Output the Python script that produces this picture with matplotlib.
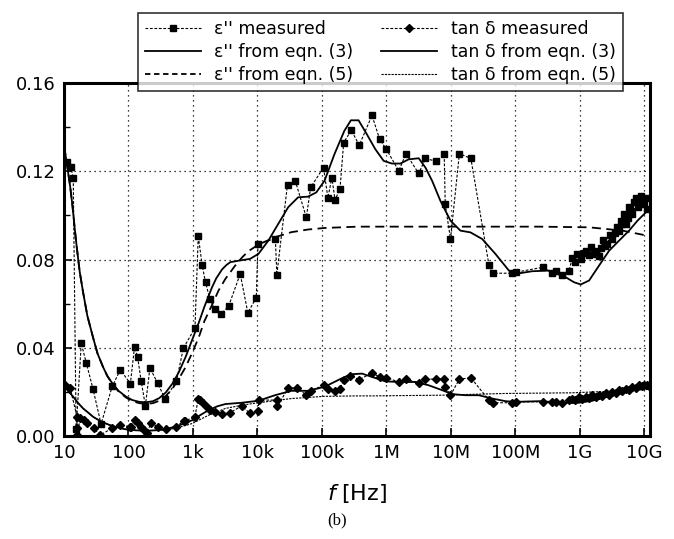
import numpy as np
import matplotlib
matplotlib.use('Agg')
import matplotlib.pyplot as plt
from matplotlib.ticker import FixedLocator, LogLocator, NullFormatter, MultipleLocator
from matplotlib.lines import Line2D

# --- data (frequency in Hz) ---
eps_meas_f = [11.3, 12.7, 13.9, 15.4, 18.5, 22.2, 28.2, 37.5, 56, 74.7, 107, 124, 139, 157, 183, 215,
              282, 371, 554, 710, 1075, 1208, 1392, 1568, 1828, 2180, 2760, 3580, 5410, 7100, 9600,
              10200, 19000, 20000, 29300, 38900, 57400, 67000, 106e3, 124e3, 143e3, 160e3, 191e3,
              218e3, 286e3, 380e3, 599e3, 788e3, 1.0e6, 1.56e6, 2.02e6, 3.18e6, 4.04e6, 5.98e6,
              7.9e6, 8.2e6, 9.89e6, 13.6e6, 20.5e6, 39e6, 45e6, 87.7e6, 101e6, 269e6, 367e6, 424e6,
              538e6, 682e6, 769e6, 850e6, 920e6, 1.04e9, 1.15e9, 1.24e9, 1.38e9, 1.52e9, 1.65e9,
              1.77e9, 2.0e9, 2.15e9, 2.3e9, 2.5e9, 2.69e9, 2.95e9, 3.22e9, 3.5e9, 3.85e9, 4.1e9,
              4.33e9, 4.6e9, 4.88e9, 5.3e9, 5.6e9, 5.84e9, 6.2e9, 6.59e9, 7.0e9, 7.42e9, 7.9e9,
              8.36e9, 8.87e9, 9.4e9, 10e9, 10.6e9, 11.2e9]
eps_meas_v = [0.124, 0.122, 0.117, 0.003, 0.042, 0.033, 0.0213, 0.0054, 0.0226, 0.030, 0.0238, 0.0404,
              0.0356, 0.025, 0.0137, 0.0309, 0.0241, 0.0167, 0.0249, 0.0398, 0.049, 0.0907, 0.0773,
              0.0696, 0.0622, 0.0576, 0.0554, 0.0589, 0.0735, 0.0559, 0.0627, 0.0871, 0.0895, 0.0731,
              0.114, 0.1154, 0.0991, 0.1127, 0.1217, 0.108, 0.117, 0.107, 0.112, 0.133, 0.1386,
              0.1318, 0.1453, 0.1345, 0.130, 0.1202, 0.128, 0.119, 0.1258, 0.1245, 0.1277, 0.1051,
              0.0893, 0.128, 0.1258, 0.0777, 0.0738, 0.0738, 0.0742, 0.0765, 0.0739, 0.075, 0.0732,
              0.075, 0.0807, 0.079, 0.0825, 0.0803, 0.083, 0.084, 0.082, 0.0855, 0.084, 0.0825,
              0.0818, 0.085, 0.0889, 0.086, 0.087, 0.091, 0.0893, 0.092, 0.0946, 0.093, 0.0976,
              0.096, 0.1006, 0.0961, 0.099, 0.1036, 0.102, 0.1006, 0.106, 0.1081, 0.104, 0.1051,
              0.1089, 0.107, 0.1051, 0.108, 0.1029]

eps3_f = [10, 10.6, 11.3, 12.4, 13.5, 14.6, 15.7, 17.5, 19.8, 23, 28.3, 33, 40.3, 47, 57.4, 70, 92,
          115, 147, 187, 240, 300, 380, 481, 600, 771, 1000, 1236, 1500, 1982, 2300, 2825, 3300,
          3795, 5410, 7700, 10.4e3, 14.8e3, 21e3, 30e3, 42.8e3, 61e3, 81.8e3, 110e3, 157e3, 223e3,
          282e3, 371e3, 500e3, 675e3, 910e3, 1.22e6, 1.65e6, 2.22e6, 3.18e6, 4.04e6, 5.13e6, 6.9e6,
          9.9e6, 14.1e6, 20.2e6, 30.7e6, 49.4e6, 79.7e6, 101e6, 184e6, 333e6, 605e6, 816e6, 1.04e9,
          1.4e9, 2.0e9, 2.86e9, 4.09e9, 5.84e9, 7.87e9, 10e9, 12e9]
eps3_v = [0.1315, 0.127, 0.1215, 0.1135, 0.1045, 0.0945, 0.086, 0.0745, 0.065, 0.0545, 0.0445,
          0.0375, 0.0313, 0.0272, 0.0235, 0.0205, 0.0178, 0.0163, 0.0155, 0.0153, 0.0158, 0.0172,
          0.0198, 0.0238, 0.0288, 0.0359, 0.0445, 0.0515, 0.0585, 0.0675, 0.0715, 0.0755, 0.0775,
          0.0788, 0.0796, 0.0803, 0.0826, 0.0886, 0.0961, 0.1037, 0.1082, 0.1085, 0.1104, 0.1157,
          0.1278, 0.1383, 0.1431, 0.1431, 0.1367, 0.130, 0.1247, 0.1235, 0.1235, 0.1254, 0.1259,
          0.1217, 0.1157, 0.1066, 0.0976, 0.0931, 0.0923, 0.0893, 0.0825, 0.075, 0.0735, 0.0747,
          0.075, 0.072, 0.0697, 0.0687, 0.0705, 0.0773, 0.084, 0.0886, 0.0931, 0.0976, 0.1006, 0.1029]

eps5_f = [10, 10.6, 11.3, 12.4, 13.5, 14.6, 15.7, 17.5, 19.8, 23, 28.3, 33, 40.3, 47, 57.4, 70, 92,
          115, 147, 187, 240, 300, 380, 481, 600, 771, 1000, 1236, 1500, 1982, 2500, 3180, 4530,
          5800, 7280, 10.4e3, 18.7e3, 33.7e3, 61e3, 110e3, 358e3, 1.97e6, 21e6, 233e6, 1.4e9,
          4.6e9, 11.2e9]
eps5_v = [0.1315, 0.127, 0.1215, 0.1135, 0.1045, 0.0945, 0.086, 0.0745, 0.065, 0.0545, 0.0445,
          0.0375, 0.0313, 0.0272, 0.0233, 0.0202, 0.0174, 0.0158, 0.0149, 0.0146, 0.0149, 0.016,
          0.0182, 0.0215, 0.0258, 0.0313, 0.0385, 0.0449, 0.052, 0.0595, 0.066, 0.0712, 0.0773,
          0.081, 0.0838, 0.0868, 0.0901, 0.0924, 0.0936, 0.0943, 0.0949, 0.0949, 0.0949, 0.0949,
          0.0946, 0.0931, 0.0908]

tan_meas_f = [10.5, 12.5, 15.9, 15.9, 15.9, 17.9, 20.2, 22.8, 28.9, 36.6, 55.5, 74.7, 107, 110, 124,
              139, 157, 176, 191, 223, 282, 379, 541, 728, 752, 1075, 1208, 1285, 1445, 1629, 1836,
              2195, 2784, 3750, 5690, 7660, 10.3e3, 10.5e3, 19.9e3, 20.3e3, 30e3, 40.5e3, 57.4e3,
              67e3, 106e3, 124e3, 160e3, 191e3, 218e3, 276e3, 380e3, 599e3, 788e3, 1.0e6, 1.56e6,
              2.02e6, 3.18e6, 4.04e6, 5.98e6, 7.9e6, 8.2e6, 9.89e6, 13.6e6, 20.5e6, 39e6, 45e6,
              87.7e6, 101e6, 269e6, 367e6, 424e6, 538e6, 682e6, 769e6, 850e6, 978e6, 1.1e9, 1.24e9,
              1.4e9, 1.57e9, 1.8e9, 2.0e9, 2.25e9, 2.54e9, 2.85e9, 3.22e9, 3.6e9, 4.09e9, 4.6e9,
              5.19e9, 5.8e9, 6.59e9, 7.4e9, 8.36e9, 9.2e9, 10e9, 11e9, 12e9]
tan_meas_v = [0.0231, 0.0216, 0.0087, 0.0035, 0.0005, 0.008, 0.0072, 0.0057, 0.0035, 0.0005, 0.0035,
              0.005, 0.0042, 0.0042, 0.0072, 0.0057, 0.0042, 0.0027, 0.0015, 0.0057, 0.0042, 0.003,
              0.0042, 0.0069, 0.0069, 0.0087, 0.017, 0.0163, 0.0148, 0.0133, 0.0118, 0.011, 0.010,
              0.0106, 0.0136, 0.0103, 0.0115, 0.0163, 0.0163, 0.0136, 0.0216, 0.022, 0.0185, 0.0205,
              0.023, 0.0215, 0.0205, 0.0215, 0.0253, 0.0273, 0.0256, 0.0286, 0.0268, 0.0265, 0.0245,
              0.0258, 0.0241, 0.0258, 0.0258, 0.0258, 0.0223, 0.0185, 0.0258, 0.0264, 0.0163, 0.0151,
              0.0151, 0.0155, 0.0155, 0.0155, 0.0155, 0.0151, 0.0163, 0.017, 0.0162, 0.0175, 0.0168,
              0.0178, 0.0172, 0.0185, 0.0178, 0.0185, 0.018, 0.0193, 0.0188, 0.020, 0.0195, 0.0208,
              0.0203, 0.0215, 0.021, 0.0223, 0.0218, 0.023, 0.0226, 0.023, 0.0232, 0.0226]

tan3_f = [10, 11.5, 13.9, 16.5, 19.8, 24, 28.3, 38, 51, 70, 92, 130, 187, 300, 541, 977, 1300, 1762,
          2400, 3180, 5740, 10.4e3, 18.7e3, 33.7e3, 61e3, 110e3, 198e3, 282e3, 419e3, 599e3, 964e3,
          1.56e6, 2.83e6, 4.55e6, 7.33e6, 10.5e6, 16.9e6, 27.2e6, 43.9e6, 70.7e6, 101e6, 233e6,
          605e6, 978e6, 1.57e9, 2.54e9, 4.09e9, 6.59e9, 10e9, 12e9]
tan3_v = [0.023, 0.0205, 0.0178, 0.015, 0.0125, 0.0105, 0.0087, 0.0065, 0.005, 0.0038, 0.003, 0.0026,
          0.0024, 0.0027, 0.0042, 0.0072, 0.0095, 0.0118, 0.0135, 0.0145, 0.0151, 0.016, 0.0185,
          0.0205, 0.0205, 0.0223, 0.026, 0.028, 0.0283, 0.0268, 0.0248, 0.0245, 0.0245, 0.023,
          0.0208, 0.019, 0.0185, 0.0185, 0.017, 0.0158, 0.0155, 0.0158, 0.0151, 0.0151, 0.016,
          0.0178, 0.0193, 0.0208, 0.0223, 0.023]

tan5_f = [10, 11.5, 13.9, 16.5, 19.8, 24, 28.3, 38, 51, 70, 92, 130, 187, 300, 541, 977, 1762, 3180,
          5740, 10.4e3, 33.7e3, 110e3, 358e3, 599e3, 6.5e6, 70.7e6, 760e6, 4.6e9, 11.2e9]
tan5_v = [0.023, 0.0205, 0.0178, 0.015, 0.0125, 0.0105, 0.0087, 0.0065, 0.005, 0.0038, 0.003, 0.0026,
          0.0024, 0.0026, 0.0035, 0.0057, 0.0095, 0.0125, 0.014, 0.0151, 0.017, 0.018, 0.0182,
          0.0182, 0.0185, 0.0193, 0.0196, 0.0205, 0.0211]

xtick_vals = [1e1, 1e2, 1e3, 1e4, 1e5, 1e6, 1e7, 1e8, 1e9, 1e10]
xtick_labels = ['10', '100', '1k', '10k', '100k', '1M', '10M', '100M', '1G', '10G']
ytick_vals = [0.0, 0.04, 0.08, 0.12, 0.16]

fig = plt.figure(figsize=(6.74, 5.39), dpi=100)
ax = fig.add_axes([0.095, 0.191, 0.869, 0.655])

meas_ls = (0, (2.5, 1.5))
ax.plot(eps_meas_f, eps_meas_v, color='black', lw=0.8, ls=meas_ls, marker='s', ms=4.5)
ax.plot(eps3_f, eps3_v, color='black', lw=1.3)
ax.plot(eps5_f, eps5_v, color='black', lw=1.3, ls=(0, (5, 3)))
ax.plot(tan_meas_f, tan_meas_v, color='black', lw=0.8, ls=meas_ls, marker='D', ms=4.5)
ax.plot(tan3_f, tan3_v, color='black', lw=1.3)
ax.plot(tan5_f, tan5_v, color='black', lw=0.8, ls=(0, (2, 1)))

ax.set_xscale('log')
ax.set_xlim(10, 1.22e10)
ax.set_ylim(0, 0.16)
ax.xaxis.set_major_locator(FixedLocator(xtick_vals))
ax.set_xticklabels(xtick_labels)
ax.xaxis.set_minor_locator(LogLocator(base=10, subs=np.arange(2, 10)))
ax.xaxis.set_minor_formatter(NullFormatter())
ax.set_yticks(ytick_vals)
ax.set_yticklabels(['%.2f' % v for v in ytick_vals])
ax.yaxis.set_minor_locator(MultipleLocator(0.02))

ax.tick_params(which='both', direction='in', labelsize=13, top=False, right=False)
ax.tick_params(which='major', length=6, width=1.2, pad=6)
ax.tick_params(which='minor', length=4, width=1)
ax.grid(True, which='major', color='black', ls=(0, (1, 3)), lw=0.9)
for s in ax.spines.values():
    s.set_linewidth(2.2)

ax.set_xlabel(r'$f$ [Hz]', fontsize=16, labelpad=14)
fig.text(0.5, 0.035, '(b)', fontsize=12, family='Liberation Serif', ha='center', va='center')

handles = [
    Line2D([], [], color='black', lw=0.8, ls=meas_ls, marker='s', ms=4.5),
    Line2D([], [], color='black', lw=1.3),
    Line2D([], [], color='black', lw=1.3, ls=(0, (3, 2))),
    Line2D([], [], color='black', lw=0.8, ls=meas_ls, marker='D', ms=4.5),
    Line2D([], [], color='black', lw=1.3),
    Line2D([], [], color='black', lw=0.8, ls=(0, (2, 1))),
]
labels = ["ε'' measured", "ε'' from eqn. (3)", "ε'' from eqn. (5)",
          "tan δ measured", "tan δ from eqn. (3)", "tan δ from eqn. (5)"]
leg = fig.legend(handles, labels, ncol=2, loc='upper left', bbox_to_anchor=(0.192, 0.992),
                 fontsize=12.5, frameon=True, fancybox=False, edgecolor='black',
                 handlelength=3.2, handletextpad=0.8, columnspacing=1.6, labelspacing=0.3,
                 borderpad=0.4)
leg.get_frame().set_linewidth(1.2)

fig.savefig('out.png', dpi=100)
